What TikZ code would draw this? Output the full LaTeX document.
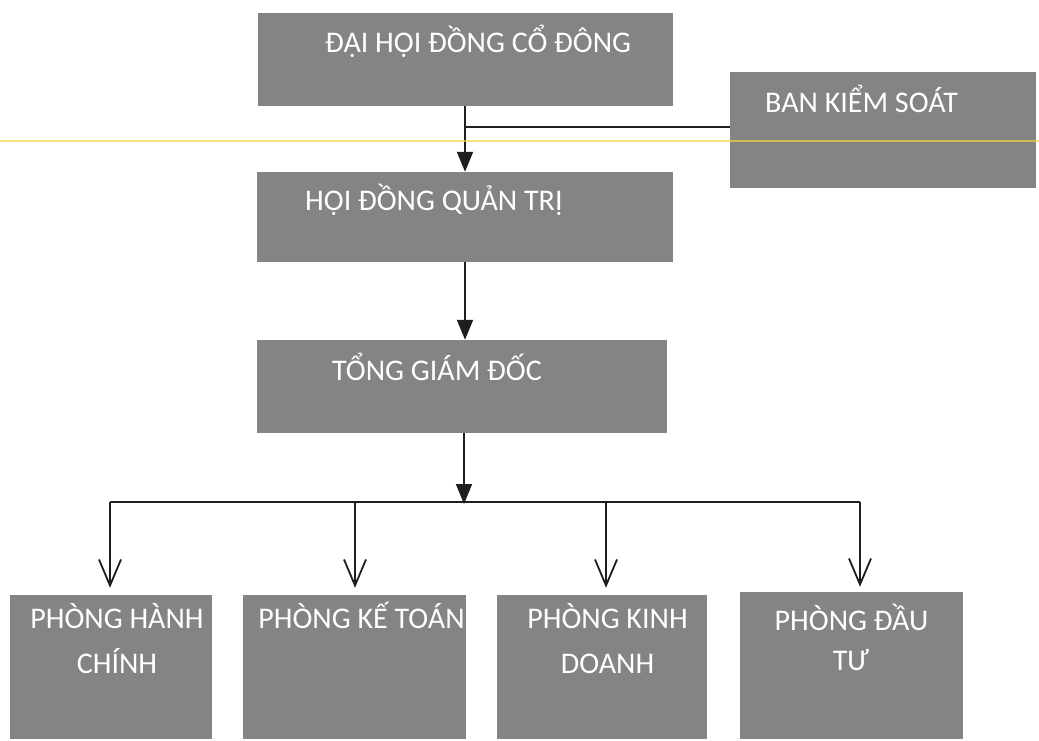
\documentclass[tikz,border=0pt]{standalone}
\usepackage{fontspec}
\setmainfont{Carlito}
\usetikzlibrary{arrows.meta}
\definecolor{boxgray}{RGB}{132,132,132}
\definecolor{linec}{RGB}{30,30,30}
\definecolor{scanyellow}{RGB}{240,215,70}
\tikzset{
  orgbox/.style={draw=none, fill=boxgray, inner sep=0pt, rectangle},
  lbl/.style={text=white, font=\fontsize{30}{36}\selectfont, inner sep=0pt},
  conn/.style={draw=linec, line width=1.8pt},
  fa/.style={conn, -{Triangle[length=20pt,width=16pt]}},
  oa/.style={conn, -{Straight Barb[length=26pt,width=22pt,line width=1.8pt]}},
}
\begin{document}
\begin{tikzpicture}[x=1pt,y=-1pt]
\useasboundingbox (0,0) rectangle (1039,741);
% boxes
\node[orgbox, minimum width=415pt, minimum height=93pt] (dh) at (465.5,59.5) {};
\node[orgbox, minimum width=306pt, minimum height=116pt] (bks) at (883,130) {};
\node[orgbox, minimum width=416pt, minimum height=90pt] (hd) at (465,217) {};
\node[orgbox, minimum width=410pt, minimum height=93pt] (tgd) at (462,386.5) {};
\node[orgbox, minimum width=202pt, minimum height=144pt] (p1) at (111,667) {};
\node[orgbox, minimum width=223pt, minimum height=144pt] (p2) at (354.5,667) {};
\node[orgbox, minimum width=210pt, minimum height=144pt] (p3) at (602,667) {};
\node[orgbox, minimum width=223pt, minimum height=147pt] (p4) at (851.5,665.5) {};
% texts
\node[lbl, anchor=base west] (t1) at (325,53) {ĐẠI HỘI ĐỒNG CỔ ĐÔNG};
\node[lbl, anchor=base west] (t4) at (765,113) {BAN KIỂM SOÁT};
\node[lbl, anchor=base west] (t2) at (305,210) {HỘI ĐỒNG QUẢN TRỊ};
\node[lbl, anchor=base west] (t3) at (332,380) {TỔNG GIÁM ĐỐC};
\node[lbl, anchor=base] (p1a) at (117,628) {PHÒNG HÀNH};
\node[lbl, anchor=base] (p1b) at (117,673) {CHÍNH};
\node[lbl, anchor=base] (p2a) at (361.5,628) {PHÒNG KẾ TOÁN};
\node[lbl, anchor=base] (p3a) at (607.5,628) {PHÒNG KINH};
\node[lbl, anchor=base] (p3b) at (607.5,673) {DOANH};
\node[lbl, anchor=base] (p4a) at (851.5,630) {PHÒNG ĐẦU};
\node[lbl, anchor=base] (p4b) at (851,670) {TƯ};
% connectors
\coordinate (j1) at (465,127);
\draw[fa] (dh.south -| j1) -- (hd.north -| j1);
\draw[conn] (j1) -- (j1 -| bks.west);
\draw[fa] (hd.south -| j1) -- (tgd.north -| j1);
\coordinate (bus) at (464,502);
\coordinate (b1) at (110,502);
\coordinate (b2) at (355,502);
\coordinate (b3) at (606,502);
\coordinate (b4) at (860,502);
\draw[fa] (tgd.south -| bus) -- ([yshift=-2pt]bus);
\draw[conn] (b1) -- (b4);
\draw[oa, shorten >=7pt] (b1) -- (b1 |- p1.north);
\draw[oa, shorten >=7pt] (b2) -- (b2 |- p2.north);
\draw[oa, shorten >=7pt] (b3) -- (b3 |- p3.north);
\draw[oa, shorten >=5pt] (b4) -- (b4 |- p4.north);
% scan artefact line
\draw[scanyellow, line width=1.3pt, opacity=0.7] (0,141) -- (1039,141);
\end{tikzpicture}
\end{document}
